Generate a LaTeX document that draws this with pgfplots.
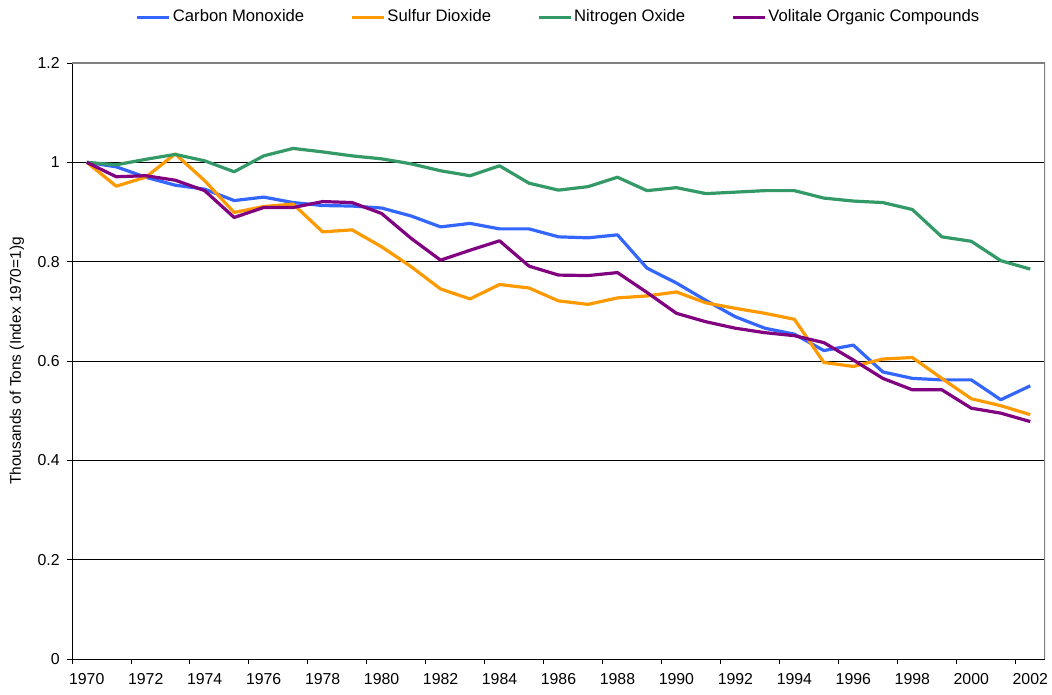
\documentclass[border=0pt]{standalone}
\usepackage{pgfplots}
\pgfplotsset{compat=1.18}
\usepackage{pgfplotstable}
\usepackage{fontspec}
\setmainfont{Liberation Sans}
\definecolor{coblue}{RGB}{51,102,255}
\definecolor{soorange}{RGB}{255,153,0}
\definecolor{nogreen}{RGB}{51,153,102}
\definecolor{vocpurple}{RGB}{128,0,128}
\pgfplotstableread{
year co so no voc
1970 1.000 1.000 1.000 1.000
1971 0.991 0.952 0.995 0.971
1972 0.970 0.970 1.006 0.973
1973 0.954 1.017 1.016 0.964
1974 0.946 0.963 1.003 0.943
1975 0.923 0.899 0.981 0.889
1976 0.930 0.911 1.013 0.909
1977 0.919 0.916 1.028 0.909
1978 0.913 0.860 1.021 0.921
1979 0.912 0.864 1.013 0.919
1980 0.908 0.830 1.007 0.897
1981 0.892 0.790 0.997 0.847
1982 0.870 0.745 0.983 0.803
1983 0.877 0.725 0.973 0.823
1984 0.866 0.754 0.993 0.842
1985 0.866 0.747 0.958 0.791
1986 0.850 0.721 0.944 0.773
1987 0.848 0.714 0.951 0.772
1988 0.854 0.727 0.970 0.778
1989 0.787 0.731 0.943 0.738
1990 0.757 0.739 0.949 0.696
1991 0.722 0.717 0.937 0.679
1992 0.689 0.706 0.940 0.666
1993 0.666 0.696 0.943 0.657
1994 0.654 0.684 0.943 0.651
1995 0.621 0.597 0.928 0.637
1996 0.632 0.589 0.922 0.602
1997 0.578 0.604 0.919 0.565
1998 0.565 0.607 0.905 0.542
1999 0.562 0.565 0.850 0.542
2000 0.562 0.524 0.841 0.505
2001 0.522 0.510 0.802 0.495
2002 0.550 0.492 0.785 0.478
}\datatable
\begin{document}
\begin{tikzpicture}
\fontsize{15.5}{18}\selectfont
\path[use as bounding box] (0,0) rectangle (1052bp,695bp);
\begin{axis}[
  at={(72bp,36bp)}, anchor=south west,
  scale only axis, width=973bp, height=596bp,
  xmin=1969.5, xmax=2002.5, ymin=0, ymax=1.2,
  axis x line*=bottom, axis y line*=left,
  axis line style={black, line width=0.9bp},
  xtick={1970,1972,...,2002},
  xticklabels={1970,1972,1974,1976,1978,1980,1982,1984,1986,1988,1990,1992,1994,1996,1998,2000,2002},
  minor xtick={1969.5,1971.5,...,2001.5},
  major x tick style={draw=none},
  minor tick length=5bp,
  minor x tick style={black, line width=0.9bp},
  ytick={0,0.2,...,1.2},
  yticklabels={0,0.2,0.4,0.6,0.8,1,1.2},
  major tick length=5bp,
  major y tick style={black, line width=0.9bp},
  tick align=outside,
  ymajorgrids,
  major grid style={black, line width=0.75bp},
  tick label style={font=\fontsize{15.9}{18}\selectfont},
  xticklabel style={yshift=-4bp},
  yticklabel style={xshift=-2bp},
  /pgf/number format/assume math mode=true,
  ylabel={Thousands of Tons (Index 1970=1)g},
  ylabel style={font=\fontsize{15.5}{18}\selectfont, at={(-55bp,0.5*596bp)}, anchor=center},
  legend style={at={(0.5,1.077)}, anchor=center, draw=none, fill=none,
    font=\fontsize{16.7}{19}\selectfont, legend columns=4,
    /tikz/every even column/.append style={column sep=44bp},
    /tikz/every odd column/.append style={column sep=0bp}},
  legend cell align=left,
  legend image code/.code={\draw[#1, line width=3.2bp] (0bp,0bp) -- (32bp,0bp);},
  every axis plot/.append style={line width=3.2bp, line join=round, mark=none},
]
\addplot[coblue] table[x=year,y=co] {\datatable};
\addlegendentry{Carbon Monoxide}
\addplot[soorange] table[x=year,y=so] {\datatable};
\addlegendentry{Sulfur Dioxide}
\addplot[nogreen] table[x=year,y=no] {\datatable};
\addlegendentry{Nitrogen Oxide}
\addplot[vocpurple] table[x=year,y=voc] {\datatable};
\addlegendentry{Volitale Organic Compounds}
\draw[gray, line width=1.2bp] (rel axis cs:0,1) -- (rel axis cs:1,1) -- (rel axis cs:1,0);
\end{axis}
\end{tikzpicture}
\end{document}
